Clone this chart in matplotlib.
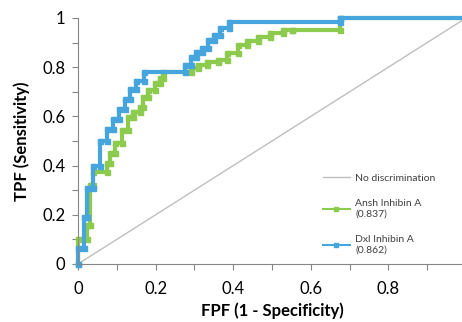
import numpy as np
import matplotlib
matplotlib.use('Agg')
import matplotlib.pyplot as plt
from matplotlib.ticker import MultipleLocator, FixedFormatter, FixedLocator

plt.rcParams['font.family'] = ['Lato', 'DejaVu Sans']

# ROC staircase points
dxl_fpf = [0, 0, 0.015, 0.015, 0.022, 0.022, 0.039, 0.039, 0.057, 0.057, 0.075, 0.075,
           0.09, 0.09, 0.105, 0.105, 0.12, 0.12, 0.135, 0.135, 0.15, 0.15, 0.17, 0.17,
           0.275, 0.275, 0.29, 0.29, 0.305, 0.305, 0.32, 0.32, 0.335, 0.335, 0.35, 0.35,
           0.365, 0.365, 0.39, 0.39, 0.675, 0.675, 1.0]
dxl_tpf = [0, 0.065, 0.065, 0.19, 0.19, 0.31, 0.31, 0.40, 0.40, 0.50, 0.50, 0.55,
           0.55, 0.59, 0.59, 0.63, 0.63, 0.67, 0.67, 0.71, 0.71, 0.745, 0.745, 0.78,
           0.78, 0.81, 0.81, 0.84, 0.84, 0.86, 0.86, 0.88, 0.88, 0.91, 0.91, 0.93,
           0.93, 0.96, 0.96, 0.985, 0.985, 1.0, 1.0]

ansh_fpf = [0, 0, 0.022, 0.022, 0.031, 0.031, 0.039, 0.039, 0.075, 0.075, 0.082, 0.082,
            0.095, 0.095, 0.113, 0.113, 0.129, 0.129, 0.142, 0.142, 0.16, 0.16, 0.168,
            0.168, 0.18, 0.18, 0.198, 0.198, 0.211, 0.211, 0.219, 0.219, 0.29, 0.29,
            0.31, 0.31, 0.332, 0.332, 0.36, 0.36, 0.384, 0.384, 0.412, 0.412, 0.436,
            0.436, 0.465, 0.465, 0.495, 0.495, 0.528, 0.528, 0.552, 0.552, 0.675,
            0.675, 1.0]
ansh_tpf = [0, 0.10, 0.10, 0.16, 0.16, 0.32, 0.32, 0.374, 0.374, 0.41, 0.41, 0.45,
            0.45, 0.49, 0.49, 0.545, 0.545, 0.598, 0.598, 0.618, 0.618, 0.638, 0.638,
            0.68, 0.68, 0.707, 0.707, 0.736, 0.736, 0.756, 0.756, 0.78, 0.78, 0.795,
            0.795, 0.81, 0.81, 0.82, 0.82, 0.83, 0.83, 0.858, 0.858, 0.89, 0.89,
            0.905, 0.905, 0.923, 0.923, 0.94, 0.94, 0.951, 0.951, 0.951, 0.951,
            1.0, 1.0]

diag = [0, 1]

labels = ['No discrimination', 'Ansh Inhibin A\n(0.837)', 'Dxl Inhibin A\n(0.862)']
x_ticklabels = ['0', '0.2', '0.4', '0.6', '0.8']
y_ticklabels = ['0', '0.2', '0.4', '0.6', '0.8', '1']

fig = plt.figure(figsize=(4.62, 3.22), dpi=100)
ax = fig.add_axes([78 / 462, 58 / 322, 388 / 462, 246 / 322])

ax.plot(diag, diag, color='#BFBFBF', lw=1.0, label=labels[0])
ax.plot(ansh_fpf, ansh_tpf, color='#8DCB4F', lw=3.0, marker='s', ms=3.6,
        clip_on=False, label=labels[1])
ax.plot(dxl_fpf, dxl_tpf, color='#45A5DC', lw=3.0, marker='s', ms=3.6,
        clip_on=False, label=labels[2])

ax.set_xlim(0, 1)
ax.set_ylim(0, 1)
ax.xaxis.set_major_locator(FixedLocator(np.arange(0, 0.81, 0.2)))
ax.xaxis.set_major_formatter(FixedFormatter(x_ticklabels))
ax.yaxis.set_major_locator(FixedLocator(np.arange(0, 1.01, 0.2)))
ax.yaxis.set_major_formatter(FixedFormatter(y_ticklabels))
ax.xaxis.set_minor_locator(MultipleLocator(0.1))
ax.yaxis.set_minor_locator(MultipleLocator(0.1))

for s in ['top', 'right']:
    ax.spines[s].set_visible(False)
for s in ['left', 'bottom']:
    ax.spines[s].set_color('#868686')
ax.tick_params(which='both', direction='out', length=4, width=0.8, color='#868686',
               labelsize=12, labelcolor='#000000')
ax.tick_params(axis='y', pad=5)
ax.tick_params(axis='x', pad=8)

ax.set_xlabel('FPF (1 - Specificity)', fontsize=12, fontweight='bold', labelpad=4)
ax.set_ylabel('TPF (Sensitivity)', fontsize=12, fontweight='bold', labelpad=9)

leg = ax.legend(loc='upper left', bbox_to_anchor=(0.62, 0.385), frameon=False,
                fontsize=7.5, handlelength=2.6, handletextpad=0.5, labelspacing=1.6,
                numpoints=1, borderaxespad=0)
for t in leg.get_texts():
    t.set_color('#404040')
for h in leg.legend_handles[1:]:
    h.set_linewidth(1.5)
    h.set_markersize(3)

fig.savefig('out.png', dpi=100)
